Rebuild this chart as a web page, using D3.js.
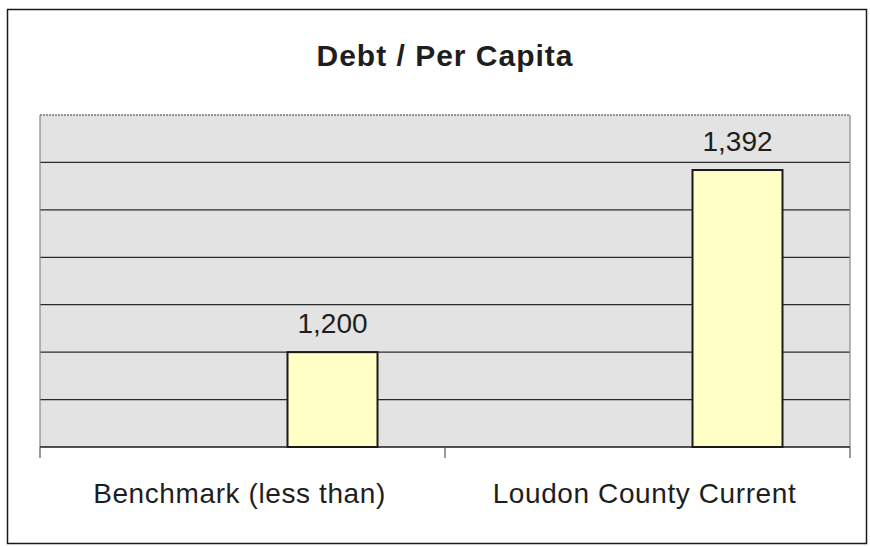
<!DOCTYPE html>
<html>
<head>
<meta charset="utf-8">
<script src="https://cdn.jsdelivr.net/npm/d3@7"></script>
<style>
  html, body { margin: 0; padding: 0; background: #ffffff; }
  svg { display: block; font-family: "Liberation Sans", Arial, sans-serif; }
</style>
</head>
<body>
<svg id="chart" width="870" height="546"></svg>
<script>
const title = "Debt / Per Capita";
const categories = ["Benchmark (less than)", "Loudon County Current"];
const values = [1200, 1392];
const valueLabels = ["1,200", "1,392"];
const slots = ["s1", "s2", "s3"];   // Excel clustered slots; only the third holds data
const yDomain = [1100, 1450];
const yTicks = [1100, 1150, 1200, 1250, 1300, 1350, 1400, 1450];

const svg = d3.select("#chart");
const W = 870, H = 546;
const m = { left: 40, right: 20, top: 115, bottom: 99 };
const pw = W - m.left - m.right, ph = H - m.top - m.bottom;

// outer frame
svg.append("rect").attr("x", 7.5).attr("y", 9.5).attr("width", 859).attr("height", 534)
  .attr("fill", "#fff").attr("stroke", "#1a1a1a").attr("stroke-width", 1.5);

svg.append("text").attr("x", 445).attr("y", 66).attr("text-anchor", "middle")
  .attr("font-size", 30).attr("font-weight", "bold").attr("letter-spacing", 1)
  .attr("fill", "#1e1e1e").text(title);

const g = svg.append("g").attr("transform", `translate(${m.left},${m.top})`);

const x = d3.scaleBand().domain(categories).range([0, pw]).paddingInner(0).paddingOuter(0);
const inner = x.bandwidth() / (3 + 1.5);
const x1 = d3.scaleBand().domain(slots).range([x.bandwidth() / 2 - 1.5 * inner, x.bandwidth() / 2 + 1.5 * inner]);
const y = d3.scaleLinear().domain(yDomain).range([ph, 0]);

g.append("rect").attr("x", 0).attr("y", 0).attr("width", pw).attr("height", ph)
  .attr("fill", "#e3e3e3");

// gridlines
g.append("g").selectAll("line").data(yTicks.filter(t => t > yDomain[0] && t < yDomain[1])).join("line")
  .attr("x1", 0).attr("x2", pw).attr("y1", d => y(d)).attr("y2", d => y(d))
  .attr("stroke", "#2a2a2a").attr("stroke-width", 1.2);

// plot border (top dashed, left/right gray)
g.append("line").attr("x1", 0).attr("x2", pw).attr("y1", y(yDomain[1])).attr("y2", y(yDomain[1]))
  .attr("stroke", "#777").attr("stroke-width", 1.5).attr("stroke-dasharray", "2,1");
g.append("line").attr("x1", 0).attr("x2", 0).attr("y1", 0).attr("y2", ph)
  .attr("stroke", "#888").attr("stroke-width", 1.2);
g.append("line").attr("x1", pw).attr("x2", pw).attr("y1", 0).attr("y2", ph)
  .attr("stroke", "#888").attr("stroke-width", 1.2);

// bars
g.append("g").selectAll("rect").data(values).join("rect")
  .attr("x", (d, i) => x(categories[i]) + x1("s3"))
  .attr("y", d => y(d))
  .attr("width", x1.bandwidth())
  .attr("height", d => ph - y(d))
  .attr("fill", "#ffffc6").attr("stroke", "#1a1a1a").attr("stroke-width", 2);

// value labels
g.append("g").selectAll("text").data(values).join("text")
  .attr("x", (d, i) => x(categories[i]) + x1("s3") + x1.bandwidth() / 2)
  .attr("y", d => y(d) - 19)
  .attr("text-anchor", "middle").attr("font-size", 28).attr("fill", "#1e1e1e")
  .text((d, i) => valueLabels[i]);

// x axis
const xAxis = g.append("g").attr("transform", `translate(0,${ph})`);
xAxis.append("line").attr("x1", 0).attr("x2", pw).attr("stroke", "#1a1a1a").attr("stroke-width", 1.5);
const bounds = [0, ...categories.map(c => x(c) + x.bandwidth())];
xAxis.selectAll("line.tick").data(bounds).join("line").attr("class", "tick")
  .attr("x1", d => d).attr("x2", d => d).attr("y1", 0).attr("y2", 11)
  .attr("stroke", "#555").attr("stroke-width", 1.2);
xAxis.selectAll("text").data(categories).join("text")
  .attr("x", d => x(d) + x.bandwidth() / 2 - 3)
  .attr("y", 56)
  .attr("text-anchor", "middle").attr("font-size", 28).attr("letter-spacing", 0.6)
  .attr("fill", "#1e1e1e")
  .text(d => d);
</script>
</body>
</html>
